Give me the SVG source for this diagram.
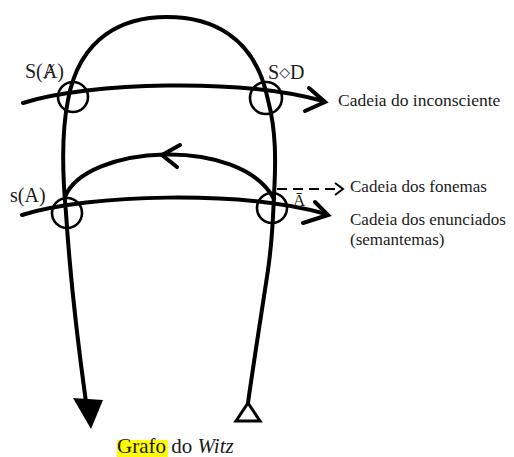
<svg xmlns="http://www.w3.org/2000/svg" width="514" height="457" viewBox="0 0 514 457">
<style>
.ln{fill:none;stroke:#000;stroke-width:4;stroke-linecap:round;stroke-linejoin:round}
.chev{fill:none;stroke:#000;stroke-width:4;stroke-linecap:round;stroke-linejoin:miter}
.ring{fill:none;stroke:#000;stroke-width:2.6}
.dash{fill:none;stroke:#000;stroke-width:2;stroke-dasharray:10 6}
.t{font-family:"Liberation Serif","DejaVu Serif",serif;fill:#1a1a1a}
</style>
<rect width="514" height="457" fill="#fff"/>
<g id="connectors">
  <path class="ln" d="M248,403 C254,360 262,310 268,270 C273,235 273,215 274,195 C276,160 276,130 268,100 C255,35 210,17 167,17 C125,17 80,35 68,100 C62,130 62,170 66,213 C69,260 76,330 86,402"/>
  <polygon points="73,398 103,400 91,429" fill="#000"/>
  <polygon points="236,421 260,421 248,403" fill="#fff" stroke="#000" stroke-width="3" stroke-linejoin="miter"/>
  <path class="ln" d="M23,103 C90,82 240,78 323,101"/>
  <polyline class="chev" points="309,88 325,102 305,111"/>
  <path class="ln" d="M22,215 C90,194 240,190 326,214"/>
  <polyline class="chev" points="315,202 328,215 303,223"/>
  <path class="ln" d="M65,197 C85,145 240,135 274,199"/>
  <polyline class="chev" points="180,145 162,155 177,167"/>
  <path class="dash" d="M277,189 L340,189"/>
  <polyline fill="none" stroke="#000" stroke-width="2" points="335,183 343,189 335,195"/>
</g>
<g id="node-SA"><circle class="ring" cx="73" cy="97" r="15"/><text class="t" x="25" y="78" font-size="20">S(Ⱥ)</text></g>
<g id="node-SD"><circle class="ring" cx="266" cy="98" r="16"/><text class="t" x="268" y="79" font-size="20">S<tspan font-size="14" dy="-2">◇</tspan><tspan dy="2">D</tspan></text></g>
<g id="node-sA"><circle class="ring" cx="67" cy="213" r="15"/><text class="t" x="10" y="202" font-size="20">s(A)</text></g>
<g id="node-A"><circle class="ring" cx="272" cy="208" r="15"/><text class="t" x="293" y="206" font-size="17">Ā</text></g>
<g id="labels">
  <text class="t" x="338" y="106" font-size="17.5">Cadeia do inconsciente</text>
  <text class="t" x="350" y="192" font-size="17">Cadeia dos fonemas</text>
  <text class="t" x="350" y="225" font-size="17">Cadeia dos enunciados</text>
  <text class="t" x="350" y="245" font-size="17">(semantemas)</text>
</g>
<g id="caption">
  <rect x="117" y="440" width="51" height="17" fill="#ffff00"/>
  <text class="t" x="117" y="453" font-size="21">Grafo do <tspan font-style="italic">Witz</tspan></text>
</g>
</svg>
